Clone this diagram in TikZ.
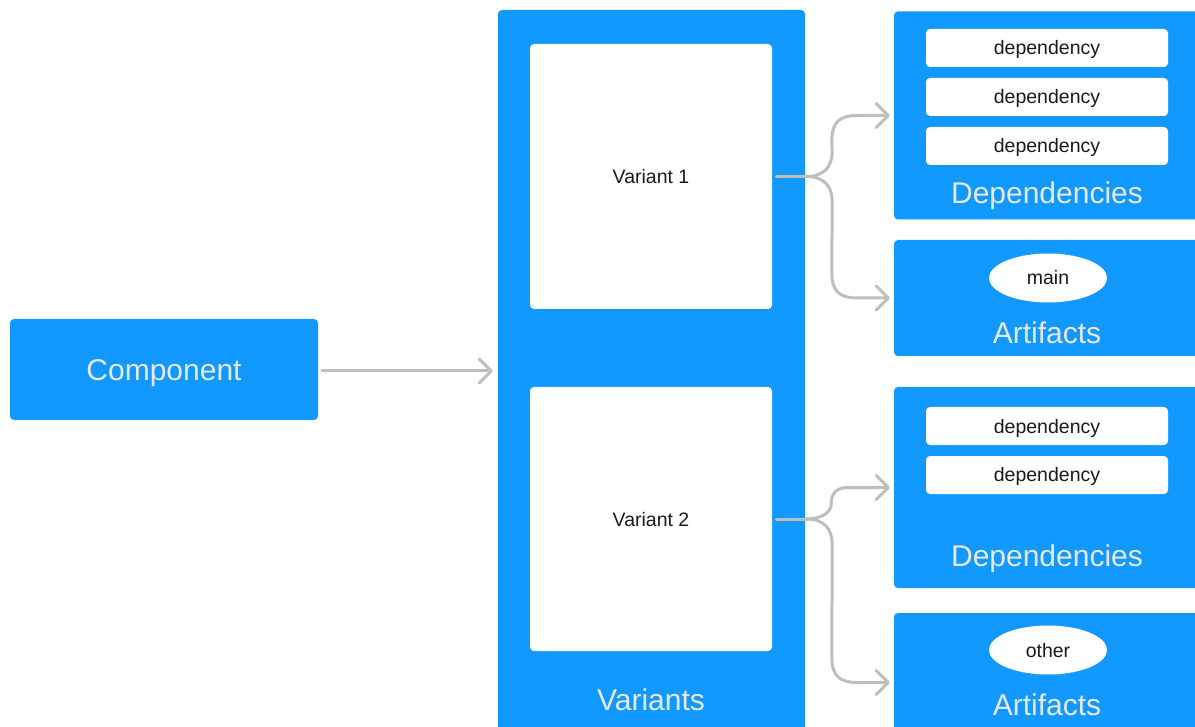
\documentclass[tikz,border=0pt]{standalone}
\usepackage{fontspec}
\setmainfont{Liberation Sans}
\usetikzlibrary{arrows.meta,calc,shapes.geometric}
\definecolor{bblue}{HTML}{1199FF}
\definecolor{ltxt}{HTML}{E8E8E8}
\definecolor{lgray}{HTML}{BEBEBE}
\definecolor{dtxt}{HTML}{1A1A1A}
\tikzset{
  x=1pt, y=-1pt,
  bluebox/.style={fill=bblue, draw=none, rounded corners=4pt, inner sep=0pt},
  whitebox/.style={fill=white, draw=none, rounded corners=4pt, inner sep=0pt},
  bigtxt/.style={text=ltxt, font=\fontsize{30}{33}\selectfont, inner sep=0pt, text height=21.5pt, text depth=0pt},
  smalltxt/.style={text=dtxt, font=\fontsize{19.5}{22}\selectfont, text height=14pt, text depth=0pt},
  depbox/.style={whitebox, minimum width=242pt, minimum height=38pt, smalltxt},
  artell/.style={ellipse, fill=white, draw=none, minimum width=118pt, minimum height=49pt, inner sep=0pt, smalltxt},
  conn/.style={draw=lgray, line width=3pt, line cap=round, line join=round,
    -{Straight Barb[length=12pt,width=24pt,round]}},
  connl/.style={draw=lgray, line width=3pt, line cap=round, line join=round}
}
\begin{document}
\begin{tikzpicture}
\useasboundingbox (0,0) rectangle (1195,727);
% component
\node[bluebox, minimum width=308pt, minimum height=101pt, bigtxt] (comp) at (164,369.5) {Component};
% variants
\node[bluebox, minimum width=307pt, minimum height=730pt] (vars) at (651.5,375) {};
\node[bigtxt] (varslbl) at (651,700) {Variants};
\node[whitebox, minimum width=242pt, minimum height=265pt, smalltxt] (v1) at (651,176.5) {Variant 1};
\node[whitebox, minimum width=242pt, minimum height=264pt, smalltxt] (v2) at (651,519) {Variant 2};
% dependencies 1
\node[bluebox, minimum width=306pt, minimum height=208pt] (dep1) at (1047,115.5) {};
\node[depbox] (d11) at (1047,48) {dependency};
\node[depbox] (d12) at (1047,97) {dependency};
\node[depbox] (d13) at (1047,146) {dependency};
\node[bigtxt] (dep1lbl) at (1047,193) {Dependencies};
% artifacts 1
\node[bluebox, minimum width=306pt, minimum height=116pt] (art1) at (1047,298) {};
\node[artell] (main) at (1048,278) {main};
\node[bigtxt] (art1lbl) at (1047,333) {Artifacts};
% dependencies 2
\node[bluebox, minimum width=306pt, minimum height=201pt] (dep2) at (1047,487.5) {};
\node[depbox] (d21) at (1047,426) {dependency};
\node[depbox] (d22) at (1047,475) {dependency};
\node[bigtxt] (dep2lbl) at (1047,556) {Dependencies};
% artifacts 2
\node[bluebox, minimum width=306pt, minimum height=127pt] (art2) at (1047,676.5) {};
\node[artell] (other) at (1048,650) {other};
\node[bigtxt] (art2lbl) at (1047,705) {Artifacts};
\coordinate (a2in) at ([yshift=-6pt]art2.west);
% arrows
\draw[conn] ([xshift=4pt]comp.east |- 0,371) -- ([xshift=-5pt]vars.west |- 0,371);
% variant 1 branches
\draw[connl] ([xshift=4pt]v1.east) -- ++(30,0) coordinate (j1);
\draw[conn] (j1) .. controls +(18,0) and +(0,15) .. ($(j1)+(26,-25)$)
  -- ($(dep1.west)+(-62,26)$) .. controls +(0,-20) and +(-18,0) .. ($(dep1.west)+(-36,0)$)
  -- ([xshift=-4pt]dep1.west);
\draw[conn] (j1) .. controls +(18,0) and +(0,-15) .. ($(j1)+(26,25)$)
  -- ($(art1.west)+(-62,-26)$) .. controls +(0,20) and +(-18,0) .. ($(art1.west)+(-36,0)$)
  -- ([xshift=-4pt]art1.west);
% variant 2 branches
\draw[connl] ([xshift=4pt]v2.east) -- ++(30,0) coordinate (j2);
\draw[conn] (j2) .. controls +(16,0) and +(0,8) .. ($(j2)+(25,-15)$)
  .. controls +(0,-10) and +(-12,0) .. ($(dep2.west)+(-46,0)$)
  -- ([xshift=-4pt]dep2.west);
\draw[conn] (j2) .. controls +(18,0) and +(0,-15) .. ($(j2)+(26,25)$)
  -- ($(a2in)+(-62,-26)$) .. controls +(0,20) and +(-18,0) .. ($(a2in)+(-36,0)$)
  -- ([xshift=-4pt]a2in);
\end{tikzpicture}
\end{document}
